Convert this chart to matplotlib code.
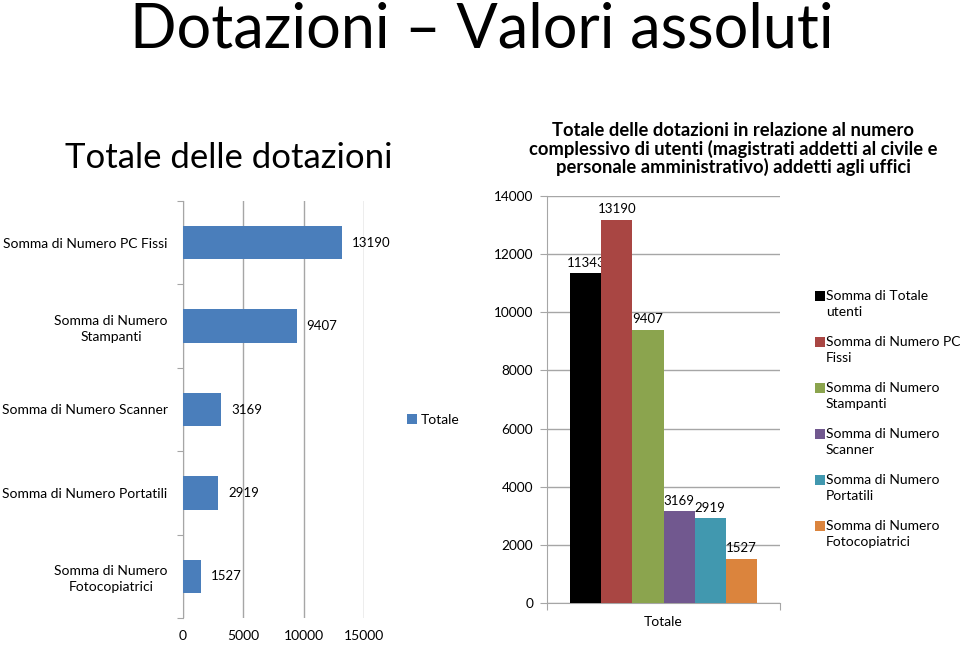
import matplotlib
matplotlib.use("Agg")
import matplotlib.pyplot as plt
from matplotlib.patches import Rectangle
import numpy as np

plt.rcParams['font.family'] = ['Lato', 'DejaVu Sans']

# left chart data (top to bottom)
left_labels = ["Somma di Numero PC Fissi", "Somma di Numero\nStampanti",
               "Somma di Numero Scanner", "Somma di Numero Portatili",
               "Somma di Numero\nFotocopiatrici"]
left_values = [13190, 9407, 3169, 2919, 1527]
left_ticks = [0, 5000, 10000, 15000]

# right chart data
right_series = ["Somma di Totale\nutenti", "Somma di Numero PC\nFissi",
                "Somma di Numero\nStampanti", "Somma di Numero\nScanner",
                "Somma di Numero\nPortatili", "Somma di Numero\nFotocopiatrici"]
right_values = [11343, 13190, 9407, 3169, 2919, 1527]
right_colors = ["#000000", "#A94643", "#8BA44E", "#71588F", "#4198AF", "#DB843D"]
right_ticks = [0, 2000, 4000, 6000, 8000, 10000, 12000, 14000]

W, H = 960, 645
fig = plt.figure(figsize=(W / 100, H / 100), dpi=100)
grid_c = "#A6A6A6"

def px(l, t, r, b):
    return [l / W, (H - b) / H, (r - l) / W, (b - t) / H]

fig.text(482 / W, 1 - 30 / H, "Dotazioni – Valori assoluti", fontsize=44,
         ha="center", va="center")
fig.text(229 / W, 1 - 158 / H, "Totale delle dotazioni", fontsize=25,
         ha="center", va="center")

# ---- left horizontal bars ----
ax1 = fig.add_axes(px(183, 201, 364, 618))
y = np.arange(len(left_values))
bars = ax1.barh(y, left_values, height=0.4, color="#4A7EBB", label="Totale", zorder=3)
ax1.set_ylim(len(left_values) - 0.5, -0.5)
ax1.set_xlim(0, 15000)
ax1.set_xticks(left_ticks)
ax1.set_xticklabels([str(t) for t in left_ticks], fontsize=10)
ax1.xaxis.grid(True, color=grid_c, lw=1)
ax1.tick_params(axis="x", length=0, pad=9)
ax1.set_yticks(np.arange(-0.5, len(left_values), 1.0), minor=False)
ax1.set_yticklabels([])
ax1.set_yticks(y, minor=True)
ax1.set_yticklabels(left_labels, minor=True, fontsize=10, ha="right",
                    multialignment="center", linespacing=1.4)
ax1.tick_params(axis="y", which="minor", length=0, pad=11)
ax1.tick_params(axis="y", which="major", length=4, color=grid_c)
for s in ["top", "right", "bottom"]:
    ax1.spines[s].set_visible(False)
ax1.spines["left"].set_color(grid_c)
for b, v in zip(bars, left_values):
    ax1.annotate(str(v), (v, b.get_y() + b.get_height() / 2), xytext=(7, 0),
                 textcoords="offset points", va="center", fontsize=9.5)
fig.legend(handles=[bars], labels=["Totale"], loc="center left",
           bbox_to_anchor=(407 / W, 1 - 420 / H), frameon=False,
           fontsize=10, handlelength=0.7, handleheight=0.7, handletextpad=0.3,
           borderpad=0, borderaxespad=0)

# ---- right grouped bars ----
ax2 = fig.add_axes(px(547, 196, 780, 603))
n = len(right_values)
bw = 0.8 / n
xs = -0.4 + bw / 2 + bw * np.arange(n)
for i in range(n):
    ax2.bar(xs[i], right_values[i], width=bw, color=right_colors[i],
            label=right_series[i], zorder=3)
    ax2.annotate(str(right_values[i]), (xs[i], right_values[i]),
                 xytext=(0, 3), textcoords="offset points", ha="center",
                 va="bottom", fontsize=9.5)
ax2.set_xlim(-0.5, 0.5)
ax2.set_ylim(0, 14000)
ax2.set_yticks(right_ticks)
ax2.set_yticklabels([str(t) for t in right_ticks], fontsize=9.8)
ax2.yaxis.grid(True, color=grid_c, lw=1)
ax2.set_axisbelow(True)
ax2.set_xticks([-0.5, 0.5])
ax2.set_xticklabels([])
ax2.set_xticks([0], minor=True)
ax2.set_xticklabels(["Totale"], minor=True, fontsize=10)
ax2.tick_params(axis="x", which="minor", length=0, pad=9)
ax2.tick_params(axis="x", which="major", length=5, color=grid_c)
ax2.tick_params(axis="y", length=5, color=grid_c, pad=5)
for s in ["top", "right"]:
    ax2.spines[s].set_visible(False)
ax2.spines["left"].set_color(grid_c)
ax2.spines["bottom"].set_color(grid_c)
fig.text(733 / W, 1 - 149 / H,
         "Totale delle dotazioni in relazione al numero\n"
         "complessivo di utenti (magistrati addetti al civile e\n"
         "personale amministrativo) addetti agli uffici",
         fontsize=13.2, fontweight="bold", ha="center", va="center",
         linespacing=1.05)

# legend: square aligned with first text line, like the original
for i in range(n):
    yc = 296 + 46 * i
    fig.patches.append(Rectangle((815 / W, 1 - (yc + 5) / H), 10 / W, 10 / H,
                                 transform=fig.transFigure, facecolor=right_colors[i],
                                 edgecolor="none"))
    fig.text(826 / W, 1 - (yc - 6) / H, right_series[i], fontsize=10,
             ha="left", va="top", linespacing=1.45)

fig.savefig("out.png", dpi=100)
